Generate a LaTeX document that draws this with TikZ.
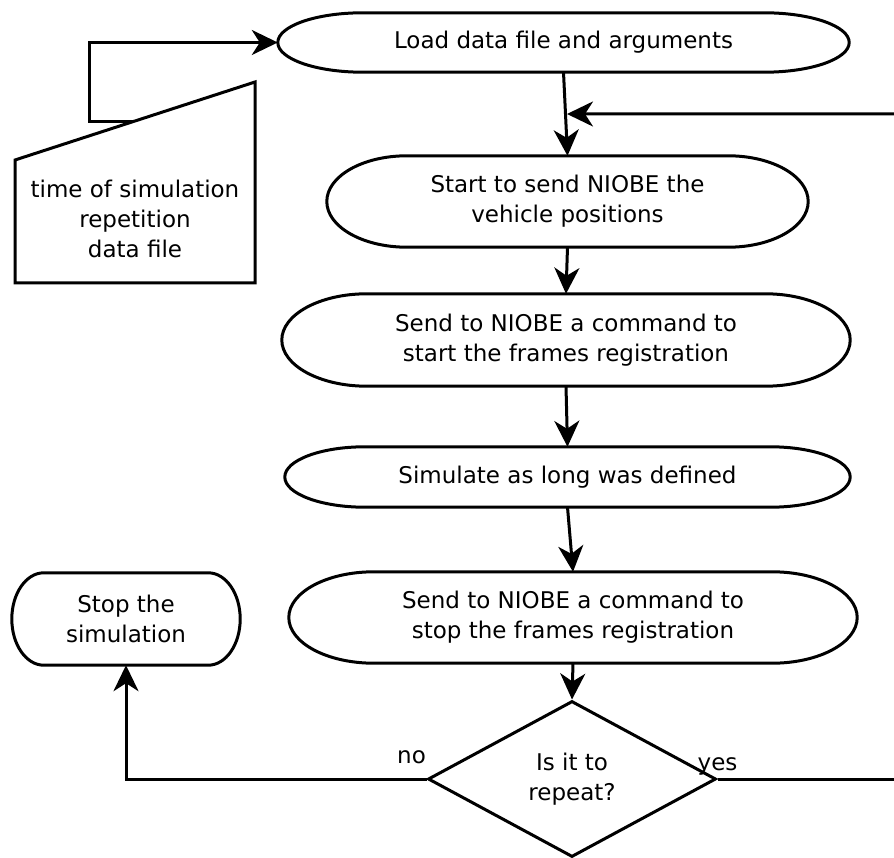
\documentclass[tikz,border=0pt]{standalone}
\usepackage{fontspec}
\setmainfont{DejaVu Sans}
\usetikzlibrary{arrows.meta,calc,shapes.geometric}
\newcommand\termoutline[2]{%
  \draw[shapeline] let \p1=(#1.north west), \p2=(#1.south east), \n1={(\y1-\y2)/2} in
    (\x1+#2pt,\y1) -- (\x2-#2pt,\y1)
    arc[start angle=90, end angle=-90, x radius=#2pt, y radius=\n1]
    -- (\x1+#2pt,\y2)
    arc[start angle=270, end angle=90, x radius=#2pt, y radius=\n1] -- cycle;}
\tikzset{
  shapeline/.style={line width=3pt, draw=black, line join=miter},
  term/.style={draw=none, inner sep=0pt, align=center},
  conn/.style={line width=3pt, draw=black, -{Stealth[length=26pt, width=25pt, inset=8pt]}},
  plainline/.style={line width=3pt, draw=black},
  lbl/.style={inner sep=0pt, anchor=base}
}
\begin{document}
\begin{tikzpicture}[x=1pt, y=-1pt, font=\fontsize{23}{30}\selectfont]
\useasboundingbox (0,0) rectangle (894,858);

% terminals
\node[term, minimum width=571pt, minimum height=59pt] (load) at (563.5,42.5) {Load data file and arguments};
\termoutline{load}{85}
\node[term, minimum width=481pt, minimum height=91pt] (start) at (567.5,201.5) {Start to send NIOBE the\\vehicle positions};
\termoutline{start}{80}
\node[term, minimum width=568pt, minimum height=92pt] (sendstart) at (566,340) {Send to NIOBE a command to\\start the frames registration};
\termoutline{sendstart}{85}
\node[term, minimum width=565pt, minimum height=60pt] (simulate) at (567.5,477) {Simulate as long was defined};
\termoutline{simulate}{80}
\node[term, minimum width=568pt, minimum height=91pt] (sendstop) at (573,617.5) {Send to NIOBE a command to\\stop the frames registration};
\termoutline{sendstop}{85}
\node[term, minimum width=228pt, minimum height=92pt] (stop) at (126,619) {Stop the\\simulation};
\termoutline{stop}{32}

% decision
\node[diamond, shapeline, minimum width=288pt, minimum height=156pt, inner sep=0pt, align=center] (dec) at (572,779) {Is it to\\repeat?};

% manual input
\coordinate (m1) at (15,160);
\coordinate (m2) at (255,82);
\coordinate (m3) at (255,283);
\coordinate (m4) at (15,283);
\draw[shapeline] (m1) -- (m2) -- (m3) -- (m4) -- cycle;
\node[term] (manual) at (135,219) {time of simulation\\repetition\\data file};
\coordinate (mstart) at ($(m1)!0.49!(m2)$);

% connectors
\draw[conn] (mstart) -- ++(-43,0) |- (load.west);
\draw[conn] (load.south) -- (start.north);
\coordinate (merge) at ($(load.south)!0.5!(start.north)$);
\coordinate (retin) at (894,114);
\draw[conn] (retin) -- ($(merge)+(1.5,0)$);
\draw[conn] (start.south) -- (sendstart.north);
\draw[conn] (sendstart.south) -- (simulate.north);
\draw[conn] (simulate.south) -- (sendstop.north);
\draw[conn] (sendstop.south) -- (dec.north);
\draw[conn] (dec.west) -| (stop.south);
\coordinate (yesend) at (894,779);
\draw[plainline] (dec.east) -- (yesend);

% labels
\node[lbl] (no) at ($(dec.west)+(-15,-16)$) {no};
\node[lbl] (yes) at ($(dec.east)+(0,-9)$) {yes};
\end{tikzpicture}
\end{document}
